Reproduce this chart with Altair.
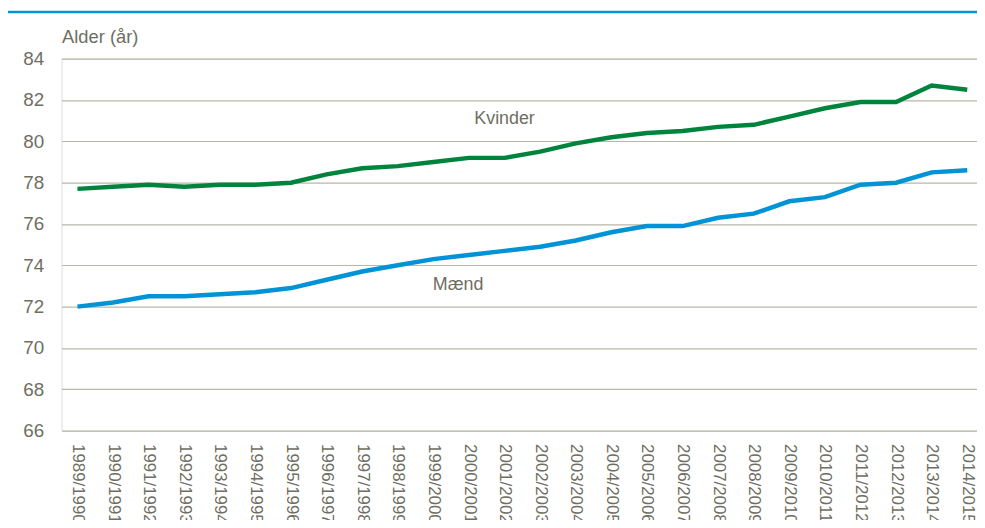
import altair as alt
import pandas as pd

seasons = ["1989/1990", "1990/1991", "1991/1992", "1992/1993", "1993/1994", "1994/1995",
           "1995/1996", "1996/1997", "1997/1998", "1998/1999", "1999/2000", "2000/2001",
           "2001/2002", "2002/2003", "2003/2004", "2004/2005", "2005/2006", "2006/2007",
           "2007/2008", "2008/2009", "2009/2010", "2010/2011", "2011/2012", "2012/2013",
           "2013/2014", "2014/2015"]
kvinder = [77.7, 77.8, 77.9, 77.8, 77.9, 77.9, 78.0, 78.4, 78.7, 78.8, 79.0, 79.2, 79.2,
           79.5, 79.9, 80.2, 80.4, 80.5, 80.7, 80.8, 81.2, 81.6, 81.9, 81.9, 82.7, 82.5]
maend = [72.0, 72.2, 72.5, 72.5, 72.6, 72.7, 72.9, 73.3, 73.7, 74.0, 74.3, 74.5, 74.7,
         74.9, 75.2, 75.6, 75.9, 75.9, 76.3, 76.5, 77.1, 77.3, 77.9, 78.0, 78.5, 78.6]
series_names = ["Kvinder", "Mænd"]
y_ticks = [66, 68, 70, 72, 74, 76, 78, 80, 82, 84]
label_season = ["2001/2002", "2000/2001"]
label_value = [81.1, 73.05]

GREEN = "#00843d"
BLUE = "#0093d6"
TEXT = "#6e6e62"
GRID = "#b9b7a8"
FONT = "Liberation Sans"

df = pd.DataFrame({
    "season": seasons * 2,
    "value": kvinder + maend,
    "series": [series_names[0]] * len(seasons) + [series_names[1]] * len(seasons),
})
labels = pd.DataFrame({"series": series_names, "season": label_season, "value": label_value})

x = alt.X("season:O", sort=seasons,
          scale=alt.Scale(type="point", padding=0.36, align=0.62),
          axis=alt.Axis(title=None, labelAngle=90, labelAlign="left", labelBaseline="middle",
                        labelFontSize=17, labelColor=TEXT, labelFont=FONT, labelPadding=13,
                        ticks=False, domain=False, grid=False))
y = alt.Y("value:Q", scale=alt.Scale(domain=[66, 84], nice=False, zero=False),
          axis=alt.Axis(values=y_ticks, title="Alder (år)", titleAngle=0, titleAlign="left",
                        titleBaseline="middle", titleX=0, titleY=-22, titleFontSize=18.5,
                        titleFontWeight="normal", titleColor=TEXT, titleFont=FONT,
                        labelFontSize=19, labelColor=TEXT, labelFont=FONT, labelPadding=18,
                        ticks=False, domain=False, grid=True, gridColor=GRID, gridWidth=1.2))
color = alt.Color("series:N", scale=alt.Scale(domain=series_names, range=[GREEN, BLUE]), legend=None)

lines = alt.Chart(df).mark_line(strokeWidth=4.5).encode(x=x, y=y, color=color)

kv_text = alt.Chart(labels).transform_filter(alt.datum.series == "Kvinder").mark_text(
    fontSize=18, font=FONT, color=TEXT, align="center", baseline="middle"
).encode(x=alt.X("season:O", sort=seasons), y="value:Q", text="series:N")

m_text = alt.Chart(labels).transform_filter(alt.datum.series == "Mænd").mark_text(
    fontSize=18, font=FONT, color=TEXT, align="center", baseline="middle", dx=-11
).encode(x=alt.X("season:O", sort=seasons), y="value:Q", text="series:N")

top_rule = alt.Chart(pd.DataFrame({"v": [0]})).mark_rule(color="#0095d8", strokeWidth=2.5).encode(
    x=alt.value(-54), x2=alt.value(923), y=alt.value(-47))

chart = alt.layer(lines, kv_text, m_text, top_rule).properties(
    width=923, height=375,
    autosize=alt.AutoSizeParams(type="none"),
    padding={"left": 54, "top": 49, "right": 0, "bottom": 88},
).configure_view(stroke=None).configure(background="white")

chart.save("out.html", embed_options={"renderer": "svg", "actions": False})
